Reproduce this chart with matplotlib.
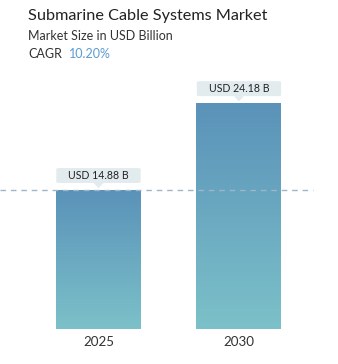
import matplotlib.pyplot as plt
import numpy as np
from matplotlib.colors import LinearSegmentedColormap
from matplotlib.patches import FancyBboxPatch, Polygon

# Chart data
years = ["2025", "2030"]
market_size = [14.88, 24.18]
value_labels = ["USD 14.88 B", "USD 24.18 B"]
cagr = "10.20%"

plt.rcParams["font.family"] = ["Lato", "DejaVu Sans"]

fig = plt.figure(figsize=(3.38, 3.64), dpi=100)
ax = fig.add_axes([0, 0.0962, 1, 0.739])

x = np.arange(len(years))
bar_width = 0.605

# Gradient fill for bars (darker blue at top, teal at bottom)
cmap = LinearSegmentedColormap.from_list("bar", ["#7cc1c9", "#5a92b9"])
gradient = np.linspace(0, 1, 256).reshape(-1, 1)
bars = ax.bar(x, market_size, width=bar_width, color="none", edgecolor="none")
for bar in bars:
    x0, w, h = bar.get_x(), bar.get_width(), bar.get_height()
    im = ax.imshow(gradient, cmap=cmap, aspect="auto", origin="lower",
                   extent=[x0, x0 + w, 0, h], zorder=2)
    im.set_clip_path(bar)

ax.set_xlim(-0.701, 1.705)
ax.set_ylim(0, 28.8)

# Dashed reference line at first value
ax.axhline(market_size[0], xmin=0, xmax=0.926, color="#9fb6c8",
           linestyle=(0, (4, 3.5)), linewidth=1.0, zorder=3)

# Value callouts
for xi, val, lab in zip(x, market_size, value_labels):
    by = val + 0.75
    bw, bh = 0.6, 1.6
    box = FancyBboxPatch((xi - bw / 2, by), bw, bh,
                         boxstyle="round,pad=0,rounding_size=0.03",
                         mutation_aspect=3,
                         facecolor="#e2ebee", edgecolor="none", zorder=4)
    ax.add_patch(box)
    ax.add_patch(Polygon([[xi - 0.035, by], [xi + 0.035, by], [xi, by - 0.55]],
                         closed=True, facecolor="#e2ebee", edgecolor="none", zorder=4))
    ax.text(xi, by + bh / 2, lab, ha="center", va="center",
            fontsize=7.6, color="#222222", zorder=5)

ax.set_xticks(x)
ax.set_xticklabels(years, fontsize=9.6, color="#333333")
ax.tick_params(axis="x", length=0, pad=5)
ax.set_yticks([])
for s in ax.spines.values():
    s.set_visible(False)

# Titles
fig.text(28 / 338, 1 - 16 / 364, "Submarine Cable Systems Market",
         fontsize=11.7, color="#222222", va="center", ha="left")
fig.text(28 / 338, 1 - 36 / 364, "Market Size in USD Billion",
         fontsize=9, color="#333333", va="center", ha="left")
fig.text(28 / 338, 1 - 54 / 364, "CAGR", fontsize=9, color="#333333",
         va="center", ha="left")
fig.text(69 / 338, 1 - 54 / 364, cagr, fontsize=9, color="#5b9bd0",
         va="center", ha="left")

fig.savefig("out.png", dpi=100)
